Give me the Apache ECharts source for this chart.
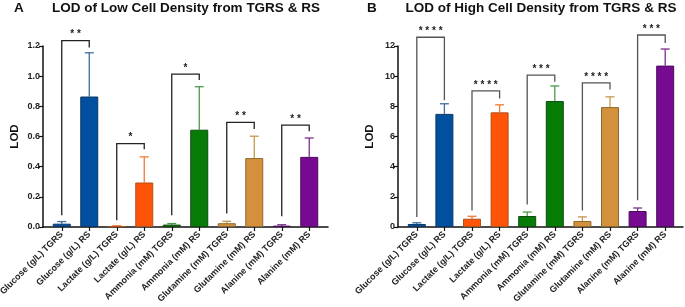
<!DOCTYPE html>
<html>
<head>
<meta charset="utf-8">
<script src="https://cdn.jsdelivr.net/npm/echarts@6/dist/echarts.min.js"></script>
<style>
html, body { margin: 0; padding: 0; background: #fff; }
#chart { width: 685px; height: 307px; }
</style>
</head>
<body>
<div id="chart"></div>
<script>
// categories (same for both panels)
var categories = [
    'Glucose (g/L) TGRS', 'Glucose (g/L) RS',
    'Lactate (g/L) TGRS', 'Lactate (g/L) RS',
    'Ammonia (mM) TGRS', 'Ammonia (mM) RS',
    'Glutamine (mM) TGRS', 'Glutamine (mM) RS',
    'Alanine (mM) TGRS', 'Alanine (mM) RS'
];

// panel A - low cell density
var lowMean = [0.022, 0.865, 0.005, 0.295, 0.016, 0.645, 0.025, 0.457, 0.009, 0.465];
var lowErr = [0.014, 0.29, 0.003, 0.17, 0.007, 0.285, 0.013, 0.145, 0.006, 0.125];
// brackets: [left idx, right idx, left leg bottom, right leg bottom, top]
var lowBrackets = [[0, 1, 0.078, 1.19, 1.235], [2, 3, 0.045, 0.515, 0.553], [4, 5, 0.078, 0.974, 1.014], [6, 7, 0.089, 0.649, 0.693], [8, 9, 0.071, 0.635, 0.675]];
var lowStars = ['* *', '*', '*', '* *', '* *'];

// panel B - high cell density
var highMean = [0.2, 7.5, 0.55, 7.6, 0.73, 8.35, 0.4, 7.95, 1.06, 10.7];
var highErr = [0.08, 0.67, 0.16, 0.5, 0.26, 1.0, 0.27, 0.68, 0.2, 1.1];
var highBrackets = [[0, 1, 0.66, 8.4, 12.58], [2, 3, 1.1, 8.52, 9.03], [4, 5, 1.5, 9.63, 10.07], [6, 7, 1.1, 9.12, 9.56], [8, 9, 1.77, 12.2, 12.73]];
var highStars = ['* * * *', '* * * *', '* * *', '* * * *', '* * *'];

var fillColors = ['#00509f', '#00509f', '#ff5408', '#ff5408', '#067c06', '#067c06', '#d3913e', '#d3913e', '#760a91', '#760a91'];
var edgeColors = ['#0b3766', '#0b3766', '#b0501a', '#b0501a', '#0d4d0d', '#0d4d0d', '#8c6a2c', '#8c6a2c', '#4c0c5c', '#4c0c5c'];
var errColors = ['#3e6d9e', '#3e6d9e', '#f07a30', '#f07a30', '#4c9a4c', '#4c9a4c', '#c6974e', '#c6974e', '#7d2f8f', '#7d2f8f'];

var chart = echarts.init(document.getElementById('chart'));

var labelFont = { fontSize: 9, fontWeight: 'bold', color: '#222', fontFamily: 'Liberation Sans' };

function outerX(grid) {
    return {
        gridIndex: grid, type: 'value', min: 0, max: 1,
        axisLine: { show: true, lineStyle: { color: '#111', width: 1.5 } },
        axisTick: { show: false }, axisLabel: { show: false }, splitLine: { show: false }
    };
}
function innerX(grid) {
    return {
        gridIndex: grid, type: 'category', data: categories,
        axisLine: { show: false },
        axisTick: { show: true, alignWithLabel: true, length: 4, lineStyle: { color: '#111', width: 1.2 } },
        axisLabel: Object.assign({ rotate: 45, interval: 0, margin: 6 }, labelFont),
        splitLine: { show: false }
    };
}
function outerY(grid, max, step, digits) {
    return {
        gridIndex: grid, type: 'value', min: 0, max: max, interval: step,
        name: 'LOD', nameLocation: 'middle', nameGap: 22,
        nameTextStyle: { fontSize: 11.5, fontWeight: 'bold', color: '#111', fontFamily: 'Liberation Sans' },
        axisLine: { show: true, lineStyle: { color: '#111', width: 1.5 } },
        axisTick: { show: true, length: 4, lineStyle: { color: '#111', width: 1.2 } },
        axisLabel: Object.assign({ margin: 3, formatter: function (v) { return v.toFixed(digits); } }, labelFont),
        splitLine: { show: false }
    };
}
function innerY(grid, max) {
    return { gridIndex: grid, type: 'value', min: 0, max: max, show: false, splitLine: { show: false } };
}

function panelSeries(axis, means, errs, brackets, stars, bracketColor) {
    var barData = means.map(function (v, i) {
        return { value: v, itemStyle: { color: fillColors[i], borderColor: edgeColors[i], borderWidth: 1 } };
    });
    var errData = means.map(function (v, i) { return [i, v, errs[i]]; });
    var brData = brackets.map(function (b, i) { return b.concat([i]); });
    return [
        {
            type: 'bar', xAxisIndex: axis, yAxisIndex: axis, barWidth: 18,
            data: barData, silent: true, z: 3
        },
        {
            type: 'custom', xAxisIndex: axis, yAxisIndex: axis, z: 2,
            data: errData,
            renderItem: function (params, api) {
                var i = api.value(0);
                var p0 = api.coord([i, api.value(1)]);
                var p1 = api.coord([i, api.value(1) + api.value(2)]);
                var st = { stroke: errColors[params.dataIndex], lineWidth: 1.3 };
                return {
                    type: 'group', children: [
                        { type: 'line', shape: { x1: p0[0], y1: p0[1], x2: p1[0], y2: p1[1] }, style: st },
                        { type: 'line', shape: { x1: p1[0] - 4.5, y1: p1[1], x2: p1[0] + 4.5, y2: p1[1] }, style: st }
                    ]
                };
            }
        },
        {
            type: 'custom', xAxisIndex: axis, yAxisIndex: axis, z: 4, clip: false,
            data: brData,
            renderItem: function (params, api) {
                var a = api.coord([api.value(0), api.value(2)]);
                var b = api.coord([api.value(0), api.value(4)]);
                var c = api.coord([api.value(1), api.value(4)]);
                var d = api.coord([api.value(1), api.value(3)]);
                return {
                    type: 'group', children: [
                        { type: 'polyline', shape: { points: [a, b, c, d] }, style: { stroke: bracketColor, lineWidth: 1.3, fill: null } },
                        {
                            type: 'text',
                            style: {
                                x: (b[0] + c[0]) / 2, y: b[1] - 1, text: stars[params.dataIndex],
                                align: 'center', verticalAlign: 'bottom',
                                fontSize: 10, fontWeight: 'bold', fill: '#222', fontFamily: 'Liberation Sans'
                            }
                        }
                    ]
                };
            }
        }
    ];
}

var titleStyle = { fontSize: 13.5, fontWeight: 'bold', color: '#111', fontFamily: 'Liberation Sans' };

var option = {
    animation: false,
    title: [
        { text: 'A', left: 14, top: 1, padding: 0, textStyle: titleStyle },
        { text: 'LOD of Low Cell Density from TGRS & RS', left: 186, top: 1, padding: 0, textAlign: 'center', textStyle: titleStyle },
        { text: 'B', left: 367, top: 1, padding: 0, textStyle: titleStyle },
        { text: 'LOD of High Cell Density from TGRS & RS', left: 541, top: 1, padding: 0, textAlign: 'center', textStyle: titleStyle }
    ],
    grid: [
        { left: 43, top: 46, width: 285, height: 181, outerBoundsMode: 'none' },
        { left: 48, top: 46, width: 275, height: 181, outerBoundsMode: 'none' },
        { left: 398, top: 46, width: 285, height: 181, outerBoundsMode: 'none' },
        { left: 403, top: 46, width: 276, height: 181, outerBoundsMode: 'none' }
    ],
    xAxis: [outerX(0), innerX(1), outerX(2), innerX(3)],
    yAxis: [outerY(0, 1.2, 0.2, 1), innerY(1, 1.2), outerY(2, 12, 2, 0), innerY(3, 12)],
    series: [].concat(
        panelSeries(1, lowMean, lowErr, lowBrackets, lowStars, '#222'),
        panelSeries(3, highMean, highErr, highBrackets, highStars, '#555')
    )
};

chart.setOption(option);
</script>
</body>
</html>
